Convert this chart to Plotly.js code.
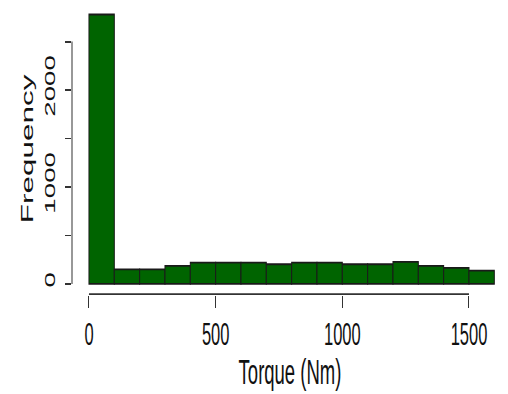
<!DOCTYPE html>
<html>
<head>
<meta charset="utf-8">
<script src="https://cdn.plot.ly/plotly-3.0.1.min.js"></script>
<style>
  html, body { margin: 0; padding: 0; background: #fff; overflow: hidden; }
  #wrap { width: 508px; height: 394px; overflow: hidden; }
  #chart { width: 508px; height: 213px; transform-origin: 0 0; transform: scaleY(1.8498); }
</style>
</head>
<body>
<div id="wrap"><div id="chart"></div></div>
<script>
// Histogram of torque values (bin width 100 Nm)
const binStarts = [0, 100, 200, 300, 400, 500, 600, 700, 800, 900, 1000, 1100, 1200, 1300, 1400, 1500];
const binWidth = 100;
const counts = [2780, 150, 150, 186, 220, 220, 220, 203, 220, 220, 203, 203, 227, 186, 165, 137];

const xTickVals = [0, 500, 1000, 1500];
const xTickText = ['0', '500', '1000', '1500'];
const yTickVals = [0, 500, 1000, 1500, 2000, 2500];
const yTickText = ['0', '', '1000', '', '2000', ''];

const xTitle = 'Torque (Nm)';
const yTitle = 'Frequency';

const FONT = 'Liberation Sans, Arial, sans-serif';
const AXC = '#333';
const TXT = '#111';

const trace = {
  type: 'bar',
  x: binStarts,
  y: counts,
  width: binStarts.map(() => binWidth),
  offset: 0,
  marker: { color: '#006400', line: { color: '#1a1a1a', width: 1 } },
  hoverinfo: 'x+y'
};

const layout = {
  width: 508,
  height: 213,
  margin: { l: 72, r: 0, t: 2, b: 54 },
  paper_bgcolor: '#fff',
  plot_bgcolor: '#fff',
  showlegend: false,
  bargap: 0,
  font: { family: FONT, color: TXT },
  xaxis: {
    range: [-67, 1654],
    tickmode: 'array',
    tickvals: xTickVals,
    ticktext: xTickText,
    ticks: 'outside',
    ticklen: 6.5,
    tickwidth: 1,
    tickcolor: AXC,
    showline: false,
    showgrid: false,
    zeroline: false,
    tickfont: { size: 16.5, family: FONT, color: TXT },
    title: { text: xTitle, font: { size: 18.5, family: FONT, color: TXT }, standoff: 6 }
  },
  yaxis: {
    range: [-105, 2891],
    tickmode: 'array',
    tickvals: yTickVals,
    ticktext: yTickText,
    ticks: 'outside',
    ticklen: 6,
    tickwidth: 1,
    tickcolor: AXC,
    tickangle: -90,
    showline: false,
    showgrid: false,
    zeroline: false,
    tickfont: { size: 15, family: FONT, color: TXT },
    ticklabelstandoff: 4,
    title: { text: yTitle, font: { size: 17, family: FONT, color: TXT }, standoff: 3 }
  },
  shapes: [
    { type: 'line', xref: 'x', yref: 'paper', x0: xTickVals[0], x1: xTickVals[xTickVals.length - 1], y0: 0, y1: 0, line: { color: AXC, width: 1 } },
    { type: 'line', xref: 'paper', yref: 'y', x0: 0, x1: 0, y0: yTickVals[0], y1: yTickVals[yTickVals.length - 1], line: { color: AXC, width: 1 } }
  ]
};

Plotly.newPlot('chart', [trace], layout, { displayModeBar: false, staticPlot: true });
</script>
</body>
</html>
